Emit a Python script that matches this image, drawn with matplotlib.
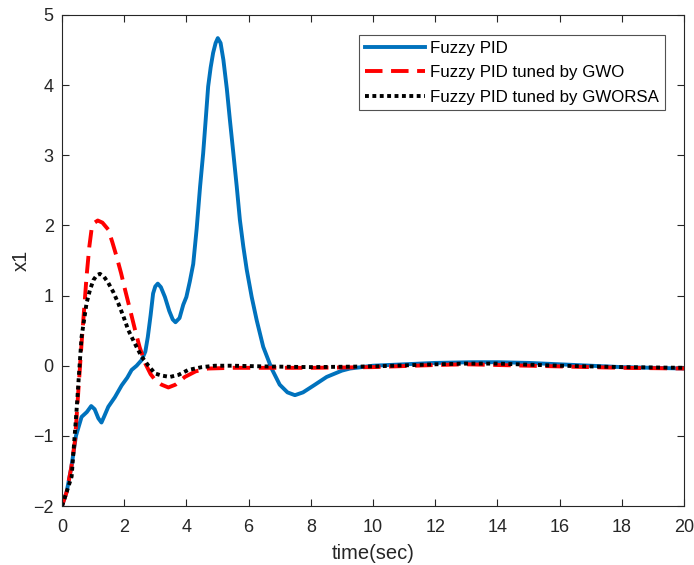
import matplotlib
matplotlib.use("Agg")
import matplotlib.pyplot as plt

plt.rcParams["font.family"] = ["Liberation Sans", "DejaVu Sans"]

# Fuzzy PID
t_fpid = [0, 0.15, 0.3, 0.45, 0.63, 0.8, 0.94, 1.05, 1.17, 1.27, 1.36, 1.49, 1.7,
          1.92, 2.1, 2.24, 2.4, 2.56, 2.68, 2.76, 2.85, 2.93, 3.0, 3.08, 3.18, 3.31,
          3.45, 3.56, 3.65, 3.78, 3.9, 4.0, 4.11, 4.22, 4.33, 4.44, 4.54, 4.62, 4.7,
          4.78, 4.86, 4.94, 5.01, 5.1, 5.19, 5.3, 5.4, 5.51, 5.62, 5.72, 5.83, 5.94,
          6.1, 6.26, 6.47, 6.74, 7.0, 7.25, 7.49, 7.75, 8.1, 8.51, 9.0, 9.26, 10, 11,
          12, 13.2, 14, 15, 16, 17, 18, 19, 20]
y_fpid = [-2, -1.8, -1.45, -1.0, -0.73, -0.66, -0.575, -0.62, -0.75, -0.81, -0.72,
          -0.585, -0.45, -0.28, -0.17, -0.06, 0.0, 0.08, 0.2, 0.41, 0.72, 1.03, 1.13,
          1.17, 1.12, 0.98, 0.78, 0.66, 0.62, 0.68, 0.87, 0.98, 1.2, 1.45, 1.95, 2.55,
          3.03, 3.5, 3.98, 4.25, 4.46, 4.6, 4.67, 4.6, 4.36, 3.95, 3.5, 3.03, 2.55,
          2.08, 1.7, 1.37, 0.98, 0.65, 0.27, -0.04, -0.27, -0.38, -0.42, -0.38, -0.28,
          -0.16, -0.07, -0.04, 0.0, 0.02, 0.04, 0.05, 0.05, 0.04, 0.02, 0.0, -0.02,
          -0.03, -0.04]

# Fuzzy PID tuned by GWO
t_gwo = [0, 0.15, 0.3, 0.42, 0.52, 0.63, 0.72, 0.79, 0.88, 0.95, 1.05, 1.15, 1.3,
         1.49, 1.62, 1.76, 1.9, 2.03, 2.2, 2.35, 2.5, 2.68, 2.85, 2.99, 3.2, 3.42,
         3.65, 3.95, 4.3, 4.7, 5.5, 6.5, 8, 10, 12, 13, 14, 16, 18, 20]
y_gwo = [-2, -1.8, -1.45, -1.06, -0.4, 0.32, 0.85, 1.27, 1.7, 1.94, 2.04, 2.07, 2.04,
         1.94, 1.76, 1.55, 1.32, 1.08, 0.78, 0.51, 0.26, 0.03, -0.12, -0.2, -0.27,
         -0.31, -0.27, -0.16, -0.08, -0.04, -0.03, -0.03, -0.03, -0.02, 0.01, 0.02,
         0.01, -0.01, -0.03, -0.04]

# Fuzzy PID tuned by GWORSA
t_gworsa = [0, 0.15, 0.31, 0.47, 0.55, 0.63, 0.79, 0.9, 1.01, 1.12, 1.22, 1.35, 1.49,
            1.65, 1.81, 1.97, 2.13, 2.35, 2.56, 2.78, 2.99, 3.2, 3.47, 3.75, 4.06,
            4.5, 4.92, 5.5, 6.5, 8, 10, 12, 13, 14, 16, 18, 20]
y_gworsa = [-2, -1.8, -1.58, -0.63, -0.1, 0.41, 0.89, 1.08, 1.22, 1.29, 1.31, 1.27,
            1.18, 1.05, 0.89, 0.71, 0.51, 0.31, 0.13, 0.0, -0.11, -0.14, -0.16, -0.13,
            -0.06, -0.02, 0.0, 0.0, -0.01, -0.02, -0.01, 0.02, 0.03, 0.03, 0.0, -0.02,
            -0.03]

labels = ["Fuzzy PID", "Fuzzy PID tuned by GWO", "Fuzzy PID tuned by GWORSA"]

fig = plt.figure(figsize=(6.94, 5.65), dpi=100)
ax = fig.add_axes([0.0893, 0.1044, 0.8963, 0.8691])

ax.plot(t_fpid, y_fpid, color="#0072BD", linewidth=2.8, label=labels[0])
ax.plot(t_gwo, y_gwo, color="#FF0000", linewidth=2.8, dashes=(4.5, 2.2), label=labels[1])
ax.plot(t_gworsa, y_gworsa, color="black", linewidth=2.8, dashes=(1.0, 0.9),
        dash_capstyle="butt", label=labels[2])

ax.set_xlim(0, 20)
ax.set_ylim(-2, 5)
ax.set_xticks(range(0, 21, 2))
ax.set_yticks(range(-2, 6))
ax.tick_params(direction="in", top=True, right=True, labelsize=13, length=5,
               width=0.8, colors="#262626")
ax.tick_params(axis="x", pad=9)
ax.tick_params(axis="y", pad=6)
for s in ax.spines.values():
    s.set_linewidth(0.8)
    s.set_color("#262626")
ax.set_xlabel("time(sec)", fontsize=14.5, color="#262626", labelpad=6)
ax.set_ylabel("x1", fontsize=14.5, color="#262626", labelpad=2)

leg = ax.legend(loc="upper right", bbox_to_anchor=(0.9695, 0.9593), fontsize=12.2,
                fancybox=False, edgecolor="#262626", handlelength=3.55,
                handletextpad=0.3, borderpad=0.35, labelspacing=0.55, borderaxespad=0)
leg.get_frame().set_linewidth(0.8)

fig.savefig("out.png", dpi=100)
